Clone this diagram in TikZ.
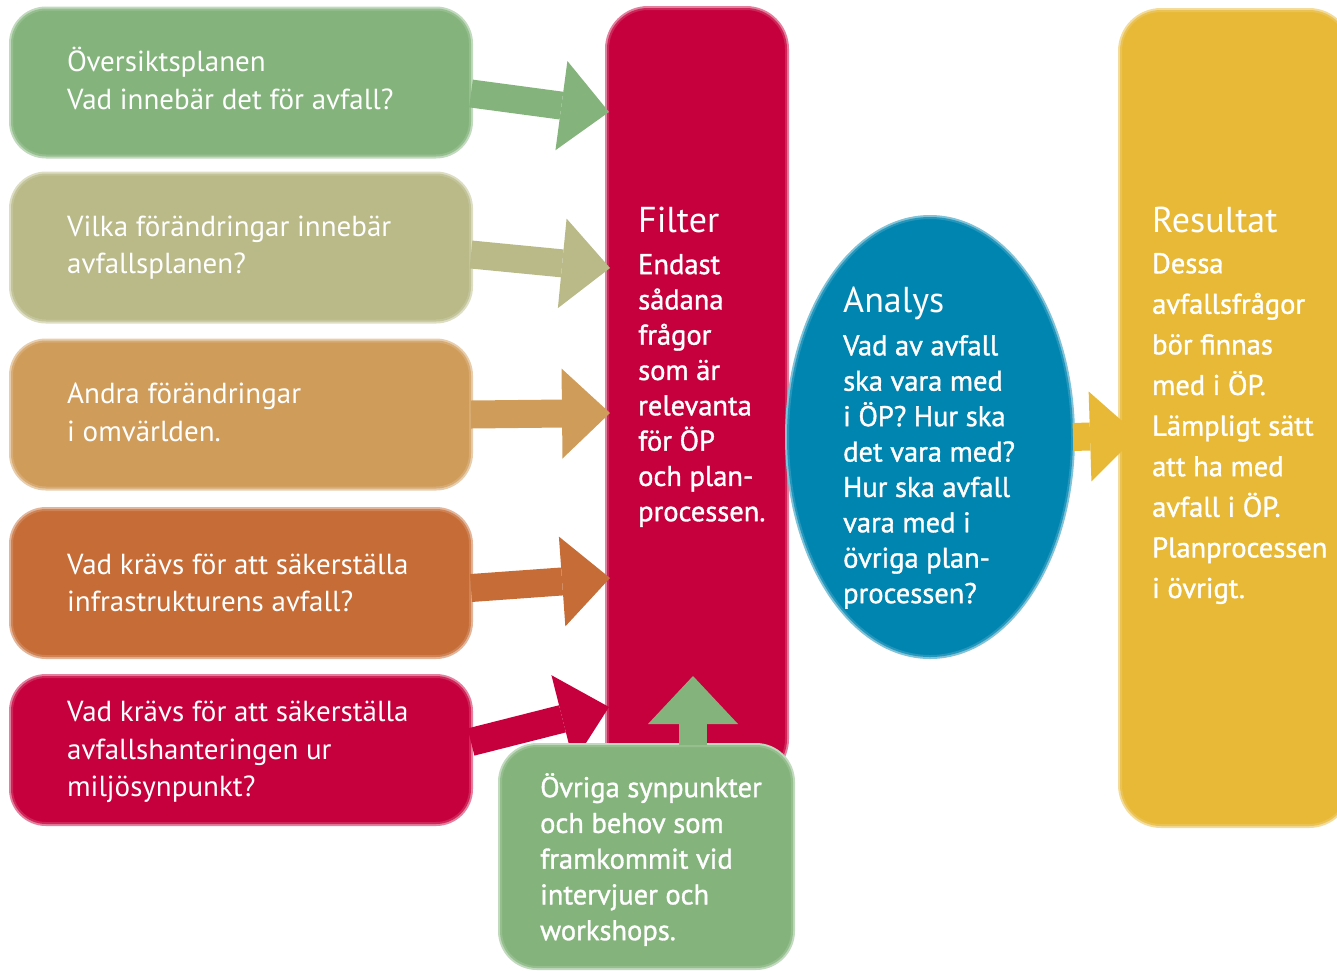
\documentclass[tikz,border=0pt]{standalone}
\usepackage{fontspec}
\setmainfont{PT Sans}
\newfontfamily\halvfet{PT Sans}[FakeBold=1.2]
\usepackage{tikz}
\usetikzlibrary{arrows.meta,shapes.geometric,positioning}

\definecolor{gron}{HTML}{84B47C}
\definecolor{oliv}{HTML}{B9BA88}
\definecolor{sand}{HTML}{D09C5A}
\definecolor{rost}{HTML}{C66C36}
\definecolor{rod}{HTML}{C6003C}
\definecolor{bla}{HTML}{0085B0}
\definecolor{gul}{HTML}{E8B937}

\begin{document}
\begin{tikzpicture}[x=1pt, y=-1pt]
%mjuk kant : en ljusare ram runt varje yta
\tikzset{mjuk/.style={fill=#1, draw=#1!85, line width=2pt, preaction={draw=#1!50, line width=6pt}}}
\tikzset{ruta/.style={mjuk=#1, rectangle, rounded corners=34pt, minimum width=458pt, minimum height=146pt}}
\tikzset{pelare/.style={mjuk=#1, rectangle, rounded corners=40pt, inner sep=0pt}}
\tikzset{pil/.style={draw=#1, line width=28pt, -{Triangle[length=48pt, width=90pt, line width=0pt]}}}
\tikzset{fraga/.style={text=white, align=left, inner sep=0pt, anchor=west, font=\fontsize{29}{37.5}\selectfont}}
\tikzset{rubrik/.style={text=white, inner sep=0pt, anchor=west, font=\fontsize{36}{40}\selectfont}}
\tikzset{brod/.style={text=white, align=left, inner sep=0pt, anchor=west, font=\halvfet\fontsize{28.5}{#1}\selectfont}}

\useasboundingbox (0,0) rectangle (1337,970);

% frågorna till vänster
\node[ruta=gron] (q1) at (241,82.5) {};
\node[ruta=oliv] (q2) at (241,247.5) {};
\node[ruta=sand] (q3) at (241,414.5) {};
\node[ruta=rost] (q4) at (241,583) {};
\node[ruta=rod] (q5) at (241,750) {};

% filtret
\node[pelare=rod, minimum width=178pt, minimum height=770pt] (filter) at (697,394) {};

% pilar in i filtret
\coordinate (in1) at (609,112);
\coordinate (in2) at (610,268);
\coordinate (in3) at (610,413);
\coordinate (in4) at (610,578);
\coordinate (in5) at (609,707);
\draw[pil=gron] ([yshift=-11pt]q1.east) -- (in1);
\draw[pil=oliv] ([yshift=-7pt]q2.east) -- (in2);
\draw[pil=sand] (q3.east) -- (in3);
\draw[pil=rost] ([yshift=-5pt]q4.east) -- (in4);
\draw[pil=rod] ([yshift=8pt]q5.east) -- (in5);

\node[fraga, right=56pt of q1.west, yshift=4pt] (t1) {Översiktsplanen\\Vad innebär det för avfall?};
\node[fraga, right=56pt of q2.west] (t2) {Vilka förändringar innebär\\avfallsplanen?};
\node[fraga, right=56pt of q3.west, yshift=2pt] (t3) {Andra förändringar\\i omvärlden.};
\node[fraga, right=56pt of q4.west] (t4) {Vad krävs för att säkerställa\\infrastrukturens avfall?};
\node[fraga, right=56pt of q5.west, yshift=-2pt] (t5) {Vad krävs för att säkerställa\\avfallshanteringen ur\\miljösynpunkt?};

% övriga synpunkter underifrån
\node[pelare=gron, rounded corners=36pt, minimum width=291pt, minimum height=221pt] (ovr) at (646.5,856.5) {};
\coordinate (upp) at (693,676);
\draw[pil=gron] ([xshift=46.5pt]ovr.north) -- (upp);
\node[brod=35.75] (tovr) at (540,859.5) {Övriga synpunkter\\och behov som\\framkommit vid\\intervjuer och\\workshops.};

\node[rubrik] (filtrub) at (638,220) {Filter};
\node[brod=35.3] (filttxt) at (638,390.5) {Endast\\sådana\\frågor\\som är\\relevanta\\för ÖP\\och plan-\\processen.};

% analysen
\node[ellipse, mjuk=bla, minimum width=284pt, minimum height=438pt] (ana) at (930,437) {};
\node[rubrik] (anarub) at (843,303) {Analys};
\node[brod=35.4] (anatxt) at (843,472) {Vad av avfall\\ska vara med\\i ÖP? Hur ska\\det vara med?\\Hur ska avfall\\vara med i\\övriga plan-\\processen?};

% resultatet
\node[pelare=gul, minimum width=228pt, minimum height=814pt] (res) at (1235,418) {};
\coordinate (ut) at (1138,435);
\draw[pil=gul] (ana.east) -- (ut);
\node[rubrik] (resrub) at (1152,220) {Resultat};
\node[brod=40.6] (restxt) at (1152,428.5) {Dessa\\avfallsfrågor\\bör finnas\\med i ÖP.\\Lämpligt sätt\\att ha med\\avfall i ÖP.\\Planprocessen\\i övrigt.};
\end{tikzpicture}
\end{document}
